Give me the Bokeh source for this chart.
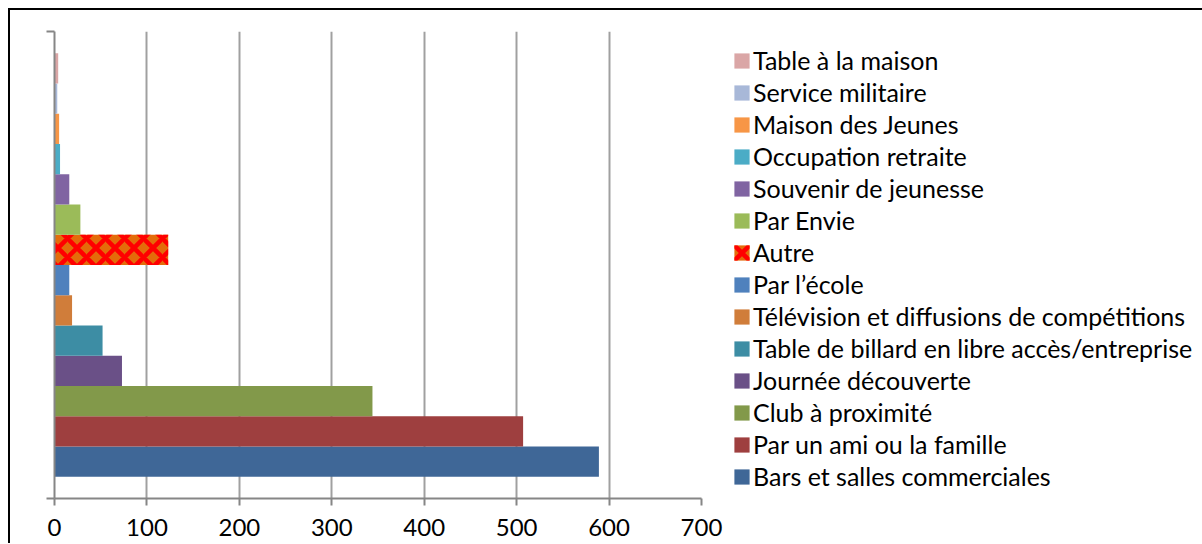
from bokeh.plotting import figure
from bokeh.models import Range1d, FixedTicker, Legend, LegendItem
from bokeh.embed import file_html
from bokeh.resources import INLINE

# Data (bottom to top)
series = [
    "Bars et salles commerciales",
    "Par un ami ou la famille",
    "Club à proximité",
    "Journée découverte",
    "Table de billard en libre accès/entreprise",
    "Télévision et diffusions de compétitions",
    "Par l’école",
    "Autre",
    "Par Envie",
    "Souvenir de jeunesse",
    "Occupation retraite",
    "Maison des Jeunes",
    "Service militaire",
    "Table à la maison",
]
values = [589, 507, 344, 73, 52, 19, 16, 123, 28, 16, 6, 5, 3, 4]
colors = [
    "#3F6797", "#9E3F3F", "#82994A", "#6A5087", "#3D8DA4", "#D07D3A", "#4F81BD",
    "#E46C0A", "#9BBB59", "#8064A2", "#4BACC6", "#F79646", "#A8B8D8", "#DAA6A6",
]
x_ticks = [0, 100, 200, 300, 400, 500, 600, 700]

FONT = "Lato"
GAP = 0.715

p = figure(
    frame_width=647, frame_height=467,
    x_range=Range1d(0, 700),
    y_range=Range1d(-GAP, len(series) + GAP),
    output_backend="svg", toolbar_location=None,
    min_border_left=44, min_border_top=21, min_border_bottom=45, min_border_right=0,
)
p.styles = {"margin-left": "8px", "margin-top": "8px",
            "border-left": "2px solid #000000", "border-top": "2px solid #000000"}
p.outline_line_color = None
p.background_fill_color = "white"
p.border_fill_color = "white"

renderers = []
for i, (name, v, c) in enumerate(zip(series, values, colors)):
    kw = dict(y=[i + 0.5], right=[v], left=0, height=1.0, fill_color=c, line_color=None)
    if name == "Autre":
        kw.update(hatch_pattern="diagonal_cross", hatch_color="#FF0000",
                  hatch_weight=4.5, hatch_scale=19)
    r = p.hbar(**kw)
    renderers.append(r)

# x axis
xa = p.xaxis[0]
xa.ticker = FixedTicker(ticks=x_ticks)
xa.axis_line_color = "#868686"
xa.axis_line_width = 2
xa.major_tick_line_color = "#868686"
xa.major_tick_line_width = 2
xa.major_tick_in = 0
xa.major_tick_out = 7
xa.minor_tick_line_color = None
xa.major_label_text_font = FONT
xa.major_label_text_font_size = "24px"
xa.major_label_text_color = "#000000"
xa.major_label_standoff = 13

# y axis: only boundary ticks
ya = p.yaxis[0]
ya.ticker = FixedTicker(ticks=[-GAP + 1e-6, len(series) + GAP - 1e-6])
ya.axis_line_color = "#868686"
ya.axis_line_width = 2
ya.major_tick_line_color = "#868686"
ya.major_tick_line_width = 2
ya.major_tick_in = 0
ya.major_tick_out = 8
ya.minor_tick_line_color = None
ya.major_label_text_font_size = "0px"
ya.major_label_text_alpha = 0

p.ygrid.grid_line_color = None
p.xgrid.grid_line_color = "#A0A0A0"
p.xgrid.grid_line_width = 2
p.xgrid.ticker = FixedTicker(ticks=x_ticks[1:])

items = [LegendItem(label=series[i], renderers=[renderers[i]]) for i in range(len(series) - 1, -1, -1)]
legend = Legend(
    items=items, location=(31, 7),
    padding=0, margin=0, border_line_color=None, background_fill_alpha=0,
    glyph_width=19, glyph_height=19, label_standoff=2, spacing=2,
    label_text_font=FONT, label_text_font_size="25px", label_text_color="#000000",
)
p.add_layout(legend, "right")

open("out.html", "w").write(file_html(p, INLINE))
